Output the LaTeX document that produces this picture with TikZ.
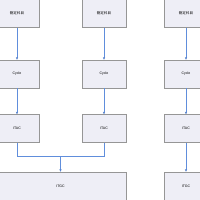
\documentclass[tikz,border=0pt]{standalone}
\usepackage{fontspec}
\setmainfont{Liberation Sans}
\newfontfamily\jpfont{Noto Sans CJK JP}
\usepackage{tikz}
\usetikzlibrary{arrows.meta,positioning,shadows}
\definecolor{flowblue}{RGB}{96,142,220}
\definecolor{boxfill}{RGB}{238,238,246}
\definecolor{boxline}{RGB}{150,150,150}

\begin{document}
\begin{tikzpicture}[every node/.style={font=\fontsize{5}{6}\selectfont},
  box/.style={draw=boxline, fill=boxfill, line width=0.5pt, minimum width=2.2cm, minimum height=1.4cm, align=center,
    drop shadow={shadow xshift=0.5pt, shadow yshift=-0.5pt, fill=black!75, opacity=1}},
  link/.style={flowblue, line width=0.5pt},
  flow/.style={link, -{Latex[length=3.5pt,width=3.5pt,fill=flowblue!70!black]}}]
  \useasboundingbox (0,0) rectangle (10,-10);
  % columns
  \foreach \i/\x in {1/0.85,2/5.2,3/9.3} {
    \node[box] (k\i) at (\x,-0.675) {\jpfont 勘定科目};
    \node[box] (c\i) at (\x,-3.7) {Cycle};
    \node[box] (a\i) at (\x,-6.425) {ITAC};
    \draw[flow] (k\i.south) -- (c\i.north);
    \draw[flow] (c\i.south) -- (a\i.north);
  }
  \node[box, minimum width=6.55cm] (g1) at (3.025,-9.3) {ITGC};
  \node[box] (g3) at (9.3,-9.3) {ITGC};
  \coordinate (m) at (3.025,-7.8);
  \draw[link] (a1.south) |- (m);
  \draw[link] (a2.south) |- (m);
  \draw[flow] (m) -- (g1.north);
  \draw[flow] (a3.south) -- (g3.north);
\end{tikzpicture}
\end{document}
